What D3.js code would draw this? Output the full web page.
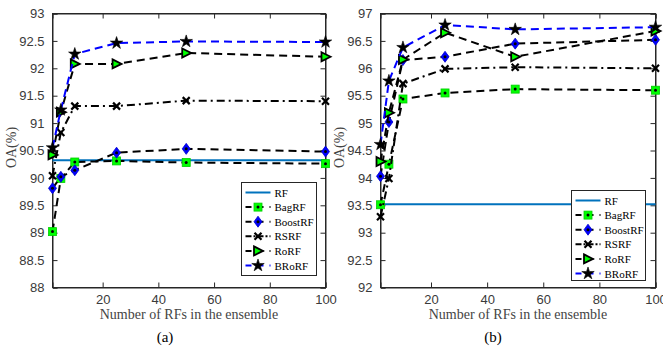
<!DOCTYPE html>
<html><head><meta charset="utf-8">
<script src="https://cdn.jsdelivr.net/npm/d3@7"></script>
<style>body{margin:0;background:#fff}svg{display:block}</style>
</head><body>
<script>
// ---- data ----
const xs = [2, 5, 10, 25, 50, 100];
const seriesNames = ["RF", "BagRF", "BoostRF", "RSRF", "RoRF", "BRoRF"];
const xTicks = [20, 40, 60, 80, 100];
const yTicksA = [88, 88.5, 89, 89.5, 90, 90.5, 91, 91.5, 92, 92.5, 93];
const yTicksB = [92, 92.5, 93, 93.5, 94, 94.5, 95, 95.5, 96, 96.5, 97];
// panel (a)
const rfA = 90.32;
const bagA = [89.02, 89.99, 90.29, 90.31, 90.28, 90.26];
const boostA = [89.81, 90.02, 90.14, 90.46, 90.53, 90.48];
const rsA = [90.04, 90.83, 91.31, 91.31, 91.41, 91.40];
const roA = [90.42, 91.20, 92.08, 92.08, 92.28, 92.21];
const broA = [90.55, 91.24, 92.26, 92.46, 92.49, 92.48];
// panel (b)
const rfB = 93.52;
const bagB = [93.51, 94.25, 95.44, 95.55, 95.62, 95.60];
const boostB = [94.03, 95.02, 96.15, 96.21, 96.45, 96.52];
const rsB = [93.29, 93.99, 95.72, 95.99, 96.02, 96.00];
const roB = [94.30, 95.19, 96.16, 96.65, 96.21, 96.68];
const broB = [94.61, 95.77, 96.38, 96.79, 96.71, 96.75];

const W = 663, H = 346;
const svg = d3.select("body").append("svg").attr("width", W).attr("height", H)
  .style("font-family", "'Liberation Sans', Arial, sans-serif");

const styles = {
  RF: {color: "#0072BD", dash: null, marker: null},
  BagRF: {color: "#000", dash: "8,5", marker: "square"},
  BoostRF: {color: "#000", dash: "8,5", marker: "diamond"},
  RSRF: {color: "#000", dash: "8,4,2,4", marker: "cross"},
  RoRF: {color: "#000", dash: "8,5", marker: "tri"},
  BRoRF: {color: "#0000ff", dash: "8,5", marker: "star"}
};

function drawMarker(g, type, x, y) {
  const m = g.append("g").attr("transform", `translate(${x},${y})`);
  if (type === "square") {
    m.append("rect").attr("x", -4).attr("y", -4).attr("width", 8).attr("height", 8)
      .attr("fill", "#00ff00").attr("stroke", "#00cc00").attr("stroke-width", 0.8);
    m.append("circle").attr("r", 1.5).attr("fill", "#000");
  } else if (type === "diamond") {
    m.append("path").attr("d", "M0,-5.5L4,0L0,5.5L-4,0Z")
      .attr("fill", "#0000ff").attr("stroke", "#0000cc").attr("stroke-width", 0.8);
    m.append("circle").attr("r", 1.5).attr("fill", "#000");
  } else if (type === "cross") {
    m.append("path").attr("d", "M-3.5,-3.5L3.5,3.5M-3.5,3.5L3.5,-3.5M-2,0L2,0")
      .attr("stroke", "#000").attr("stroke-width", 2.2).attr("fill", "none");
  } else if (type === "tri") {
    m.append("path").attr("d", "M-4,-4.5L5,0L-4,4.5Z")
      .attr("fill", "#00ff00").attr("stroke", "#000").attr("stroke-width", 1.8);
  } else if (type === "star") {
    m.append("path").attr("d", d3.symbol().type(d3.symbolStar).size(48)())
      .attr("fill", "#000").attr("stroke", "#000").attr("stroke-width", 0.6);
  }
}

function panel(cfg) {
  const {x0, x1, y0, y1, yDomain, yTicks, rf, data, label, legend} = cfg;
  const g = svg.append("g");
  const xS = d3.scaleLinear().domain([2, 100]).range([x0, x1]);
  const yS = d3.scaleLinear().domain(yDomain).range([y1, y0]);

  const axC = "#262626";
  const xb = g.append("g").attr("transform", `translate(0,${y1})`)
    .call(d3.axisBottom(xS).tickValues(xTicks).tickSize(-5).tickPadding(7).tickFormat(d3.format("d")));
  const xt = g.append("g").attr("transform", `translate(0,${y0})`)
    .call(d3.axisTop(xS).tickValues(xTicks).tickSize(-5).tickFormat(""));
  const yl = g.append("g").attr("transform", `translate(${x0},0)`)
    .call(d3.axisLeft(yS).tickValues(yTicks).tickSize(-5).tickPadding(8).tickFormat(d => d));
  const yr = g.append("g").attr("transform", `translate(${x1},0)`)
    .call(d3.axisRight(yS).tickValues(yTicks).tickSize(-5).tickFormat(""));
  [xb, xt, yl, yr].forEach(a => {
    a.select(".domain").attr("stroke", axC).attr("stroke-width", 1);
    a.selectAll(".tick line").attr("stroke", axC);
    a.selectAll(".tick text").attr("fill", "#3a3a3a").style("font-size", "13px")
      .style("font-family", "'Liberation Sans', Arial, sans-serif");
  });
  g.append("rect").attr("x", x0).attr("y", y0).attr("width", x1 - x0).attr("height", y1 - y0)
    .attr("fill", "none").attr("stroke", axC).attr("stroke-width", 1);

  g.append("line").attr("x1", x0).attr("x2", x1).attr("y1", yS(rf)).attr("y2", yS(rf))
    .attr("stroke", styles.RF.color).attr("stroke-width", 2);

  const line = d3.line().x((d, i) => xS(xs[i])).y(d => yS(d));
  seriesNames.slice(1).forEach(name => {
    const st = styles[name];
    const vals = data[name];
    g.append("path").attr("d", line(vals)).attr("fill", "none")
      .attr("stroke", st.color).attr("stroke-width", 2)
      .attr("stroke-dasharray", st.dash);
    vals.forEach((v, i) => drawMarker(g, st.marker, xS(xs[i]), yS(v)));
  });

  g.append("text").attr("transform", `translate(${x0 - 37},${(y0 + y1) / 2 - 3}) rotate(-90)`)
    .attr("text-anchor", "middle").attr("fill", "#444")
    .style("font-family", "'Liberation Serif', 'Times New Roman', serif").style("font-size", "14px")
    .text("OA(%)");
  g.append("text").attr("x", (x0 + x1) / 2).attr("y", 319).attr("text-anchor", "middle")
    .attr("fill", "#444")
    .style("font-family", "'Liberation Serif', 'Times New Roman', serif").style("font-size", "14px")
    .text("Number of RFs in the ensemble");
  g.append("text").attr("x", cfg.subX).attr("y", 342).attr("text-anchor", "middle")
    .attr("fill", "#000")
    .style("font-family", "'Liberation Serif', 'Times New Roman', serif").style("font-size", "15px")
    .text(label);

  const lg = g.append("g");
  lg.append("rect").attr("x", legend.x).attr("y", legend.y).attr("width", legend.w).attr("height", legend.h)
    .attr("fill", "#fff").attr("stroke", "#262626").attr("stroke-width", 1);
  seriesNames.forEach((name, i) => {
    const st = styles[name];
    const yy = legend.y + 10 + i * legend.step;
    lg.append("line").attr("x1", legend.x + 4).attr("x2", legend.x + 29).attr("y1", yy).attr("y2", yy)
      .attr("stroke", st.color).attr("stroke-width", 2)
      .attr("stroke-dasharray", name === "RF" ? null : (name === "RSRF" ? "6,2,2,2" : "6,6"));
    if (st.marker) drawMarker(lg, st.marker, legend.x + 16.5, yy);
    lg.append("text").attr("x", legend.x + 33).attr("y", yy + 4).attr("fill", "#000")
      .style("font-family", "'Liberation Serif', 'Times New Roman', serif").style("font-size", "11px")
      .text(name);
  });
}

panel({x0: 52.5, x1: 325.5, y0: 13.5, y1: 287.5, yDomain: [88, 93], yTicks: yTicksA, rf: rfA,
  data: {BagRF: bagA, BoostRF: boostA, RSRF: rsA, RoRF: roA, BRoRF: broA},
  label: "(a)", subX: 165, legend: {x: 241.5, y: 182.5, w: 75, h: 93, step: 14.6}});
panel({x0: 380.5, x1: 655.5, y0: 13.5, y1: 287.5, yDomain: [92, 97], yTicks: yTicksB, rf: rfB,
  data: {BagRF: bagB, BoostRF: boostB, RSRF: rsB, RoRF: roB, BRoRF: broB},
  label: "(b)", subX: 493, legend: {x: 571.5, y: 190.5, w: 74, h: 90, step: 14.6}});
</script>
</body></html>
